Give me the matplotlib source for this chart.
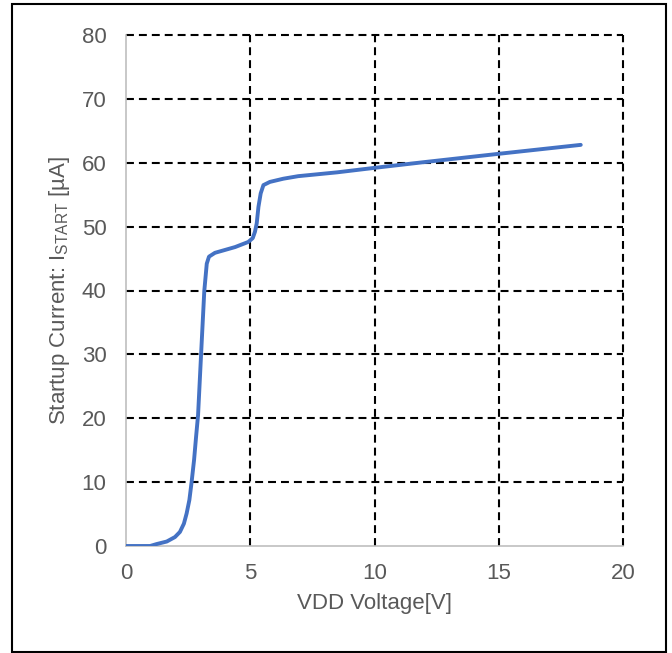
import matplotlib
matplotlib.use("Agg")
import matplotlib.pyplot as plt
from matplotlib.patches import Rectangle

plt.rcParams['font.family'] = ['Liberation Sans', 'DejaVu Sans']
plt.rcParams['mathtext.default'] = 'regular'

# VDD voltage [V] vs startup current [uA]
vdd = [0, 0.97, 1.23, 1.64, 1.97, 2.17, 2.33, 2.44, 2.55, 2.64, 2.74, 2.82,
       2.9, 3.02, 3.15, 3.25, 3.34, 3.58, 4.39, 4.92, 5.1, 5.19, 5.26, 5.33,
       5.42, 5.53, 5.79, 6.33, 6.93, 8.5, 10.0, 12.0, 15.0, 18.3]
i_start = [0, 0, 0.3, 0.7, 1.4, 2.2, 3.5, 5.1, 7.2, 10.0, 13.5, 17.1,
           20.5, 29.9, 39.9, 44.2, 45.3, 45.9, 46.8, 47.6, 48.2, 49.2, 50.5,
           53.1, 55.2, 56.5, 57.0, 57.5, 57.9, 58.5, 59.2, 60.1, 61.4, 62.8]

x_ticks = [0, 5, 10, 15, 20]
y_ticks = [0, 10, 20, 30, 40, 50, 60, 70, 80]

txt = '#595959'

fig = plt.figure(figsize=(6.72, 6.53), dpi=100)
ax = fig.add_axes([126 / 672, 1 - 546 / 653, 497 / 672, 511 / 653])

ax.plot(vdd, i_start, color='#4472C4', lw=2.8, solid_capstyle='round',
        solid_joinstyle='round', zorder=3)

ax.set_xlim(0, 20)
ax.set_ylim(0, 80)
ax.set_xticks(x_ticks)
ax.set_yticks(y_ticks)
ax.grid(True, color='black', lw=1.5, linestyle=(0, (3.8, 2.4)))
ax.set_axisbelow(True)
for g in ax.get_xgridlines() + ax.get_ygridlines():
    g.set_clip_on(False)
# the zero lines are the axis lines
ax.get_xgridlines()[0].set_visible(False)
ax.get_ygridlines()[0].set_visible(False)

for s in ['top', 'right']:
    ax.spines[s].set_visible(False)
for s in ['left', 'bottom']:
    ax.spines[s].set_color('#BFBFBF')
    ax.spines[s].set_linewidth(1.2)
    ax.spines[s].set_zorder(2.5)

ax.tick_params(axis='both', length=0, labelsize=16, labelcolor=txt)
ax.tick_params(axis='y', pad=14)
ax.tick_params(axis='x', pad=12)

ax.set_xlabel('VDD Voltage[V]', fontsize=16, color=txt)
ax.set_ylabel('Startup Current: I$_{START}$ [µA]', fontsize=16, color=txt)
ax.xaxis.set_label_coords(0.5, -0.092)
ax.yaxis.set_label_coords(-0.108, 0.5)

fig.patches.append(Rectangle((12 / 672, 1 / 653), 654 / 672, 648 / 653,
                             transform=fig.transFigure, fill=False,
                             edgecolor='black', lw=1.5))

fig.savefig('out.png', dpi=100)
